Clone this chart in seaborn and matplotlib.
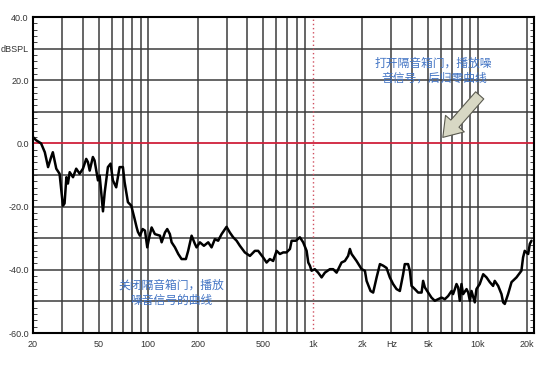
import matplotlib
matplotlib.use("Agg")
import matplotlib.pyplot as plt
import seaborn as sns
import pandas as pd
from matplotlib.ticker import MultipleLocator, NullLocator, FixedLocator

# Noise curve (Hz, dBSPL)
freq = [20, 20.9, 22.4, 23.6, 24.7, 25.8, 26.4, 27.7, 29.0, 30.4, 31.1, 31.9, 32.6, 33.4,
        35.0, 36.6, 38.4, 40.2, 42.1, 43.1, 44.2, 46.2, 47.3, 49.6, 50.8, 53.2, 54.5, 57.0,
        59.2, 61.1, 64.0, 67.1, 70.3, 72.0, 75.4, 79.0, 82.8, 85.2, 86.7, 89.2, 92.6, 95.7,
        98.8, 101.6, 105.0, 109.9, 118.0, 120.8, 126.5, 130.6, 135.5, 138.9, 145.5, 152.4,
        159.6, 169.5, 175.0, 183.6, 192.3, 196.8, 206.1, 218.1, 231.6, 242.7, 254.2, 266.1,
        279.3, 299.3, 313.4, 328.2, 344.4, 360.6, 386.4, 414.9, 444.6, 465.5, 499.4, 523.6,
        548.3, 574.1, 602.6, 631.0, 660.7, 691.9, 726.1, 743.0, 788.9, 833.9, 873.2, 916.4,
        937.8, 959.6, 982, 1028, 1077, 1130, 1183, 1268, 1328, 1393, 1493, 1564, 1637, 1678,
        1718, 1841, 1977, 2070, 2119, 2239, 2323, 2438, 2553, 2673, 2800, 2932, 3070, 3221,
        3373, 3532, 3614, 3785, 3881, 3972, 4159, 4355, 4571, 4670, 4787, 5012, 5249, 5496,
        5755, 6039, 6325, 6623, 6950, 7096, 7278, 7447, 7621, 7798, 7980, 8166, 8570, 8770,
        8974, 9183, 9616, 9840, 10304, 10815, 11325, 11859, 12418, 12707, 13335, 13964,
        14289, 14622, 15311, 16069, 17219, 18450, 18880, 19320, 20280, 20750, 21240]
spl = [2.0, 1.0, 0.0, -2.8, -7.5, -4.3, -2.8, -8.0, -9.6, -19.7, -19.0, -10.7, -12.7, -9.1,
       -10.7, -8.0, -9.6, -8.0, -4.9, -5.9, -8.6, -4.3, -5.4, -11.7, -10.2, -21.5, -15.5, -7.5,
       -6.4, -11.7, -13.9, -7.5, -7.5, -12.3, -18.6, -19.7, -23.9, -26.6, -28.0, -29.2, -27.1, -27.6,
       -32.9, -29.7, -26.6, -28.7, -29.2, -31.3, -28.2, -27.1, -28.7, -31.3, -32.9, -35.0,
       -36.6, -36.6, -34.0, -29.2, -31.8, -32.9, -31.3, -32.4, -31.3, -32.9, -30.3, -30.8,
       -28.7, -26.4, -28.2, -29.7, -30.8, -32.4, -34.5, -35.6, -34.0, -34.0, -36.1, -37.7,
       -36.6, -37.2, -34.0, -35.0, -34.5, -34.5, -33.4, -30.8, -30.8, -29.7, -31.3, -34.0,
       -37.7, -38.7, -40.3, -39.8, -40.9, -42.4, -40.9, -39.8, -39.8, -40.9, -37.7, -37.2, -35.6, -33.4,
       -35.0, -37.2, -39.8, -40.3, -43.5, -46.7, -47.2, -42.4, -38.2, -38.7, -39.4, -42.4, -44.5, -46.1,
       -46.7, -41.4, -38.2, -38.2, -40.3, -45.1, -46.1, -47.2, -47.2, -43.5, -45.6, -47.2, -48.8, -49.8,
       -49.3, -48.8, -49.3, -48.3, -46.7, -47.7, -46.1, -44.5, -45.6, -49.8, -44.5, -47.7, -46.1, -47.2,
       -49.8, -46.7, -50.3, -46.1, -44.5, -41.4, -42.4, -43.9, -45.1, -43.5, -45.1, -47.7,
       -50.3, -50.8, -47.7, -43.9, -42.4, -40.3, -36.1, -34.0, -35.0, -31.8, -30.8]

x_ticks = [20, 50, 100, 200, 500, 1000, 2000, 3000, 5000, 10000, 20000]
x_labels = ["20", "50", "100", "200", "500", "1k", "2k", "Hz", "5k", "10k", "20k"]
x_grid = [30, 40, 50, 60, 70, 80, 90, 100, 200, 300, 400, 500, 600, 700, 800, 900,
          2000, 3000, 4000, 5000, 6000, 7000, 8000, 9000, 10000, 20000]
y_ticks = [40, 30, 20, 0, -20, -40, -60]
y_labels = ["40.0", "dBSPL", "20.0", "0.0", "-20.0", "-40.0", "-60.0"]

note_closed = "关闭隔音箱门，播放\n噪音信号的曲线"
note_open = "打开隔音箱门，播放噪\n音信号，后归零曲线"

sns.set_theme(style="white")
plt.rcParams["font.family"] = ["Liberation Sans", "Noto Sans CJK SC", "DejaVu Sans"]

fig = plt.figure(figsize=(5.58, 3.68), dpi=100)
ax = fig.add_axes([0.0591, 0.0951, 0.8979, 0.8587])

df = pd.DataFrame({"freq": freq, "spl": spl})

grid_col = "#3c3c3c"
for g in range(-50, 40, 10):
    if g != 0:
        ax.axhline(g, color=grid_col, lw=1.1, zorder=1)
for f in x_grid:
    ax.axvline(f, color=grid_col, lw=1.1, zorder=1)
ax.axvline(1000, color="#d05060", lw=1.0, ls=(0, (1, 2)), zorder=1)
ax.axhline(0, color="#d0203a", lw=1.3, zorder=2)

sns.lineplot(data=df, x="freq", y="spl", ax=ax, color="black", lw=1.8, zorder=3, sort=False)

ax.set_xscale("log")
ax.set_xlim(20, 22000)
ax.set_ylim(-60, 40)
ax.xaxis.set_major_locator(FixedLocator(x_ticks))
ax.set_xticklabels(x_labels)
ax.xaxis.set_minor_locator(NullLocator())
ax.set_yticks(y_ticks)
ax.set_yticklabels(y_labels)
ax.yaxis.set_minor_locator(MultipleLocator(2))
ax.tick_params(axis="x", length=0, pad=5, labelsize=6.5, labelcolor="#333333")
ax.tick_params(axis="y", which="major", length=0, pad=3, labelsize=6.5, labelcolor="#333333")
ax.tick_params(axis="y", which="minor", direction="in", length=3, width=0.7,
               color="#444444", left=True, right=True)
ax.set_xlabel("")
ax.set_ylabel("")
for s in ax.spines.values():
    s.set_color("black")
    s.set_linewidth(1.5)

cjk = ["Noto Sans CJK SC", "DejaVu Sans"]
ax.text(139, -47.3, note_closed, ha="center", va="center", fontsize=8.5,
        color="#4274c4", family=cjk, linespacing=1.2, zorder=4)
ax.text(5420, 22.9, note_open, ha="center", va="center", fontsize=8.5,
        color="#4274c4", family=cjk, linespacing=1.2, zorder=4)
ax.annotate("", xy=(6150, 1.9), xytext=(10300, 15.2),
            arrowprops=dict(arrowstyle="simple,head_width=1.5,head_length=1.1,tail_width=0.65",
                            fc="#d8d8c4", ec="#5a5a50", lw=0.8, shrinkA=0, shrinkB=0),
            zorder=5)

fig.savefig("out.png", dpi=100)
